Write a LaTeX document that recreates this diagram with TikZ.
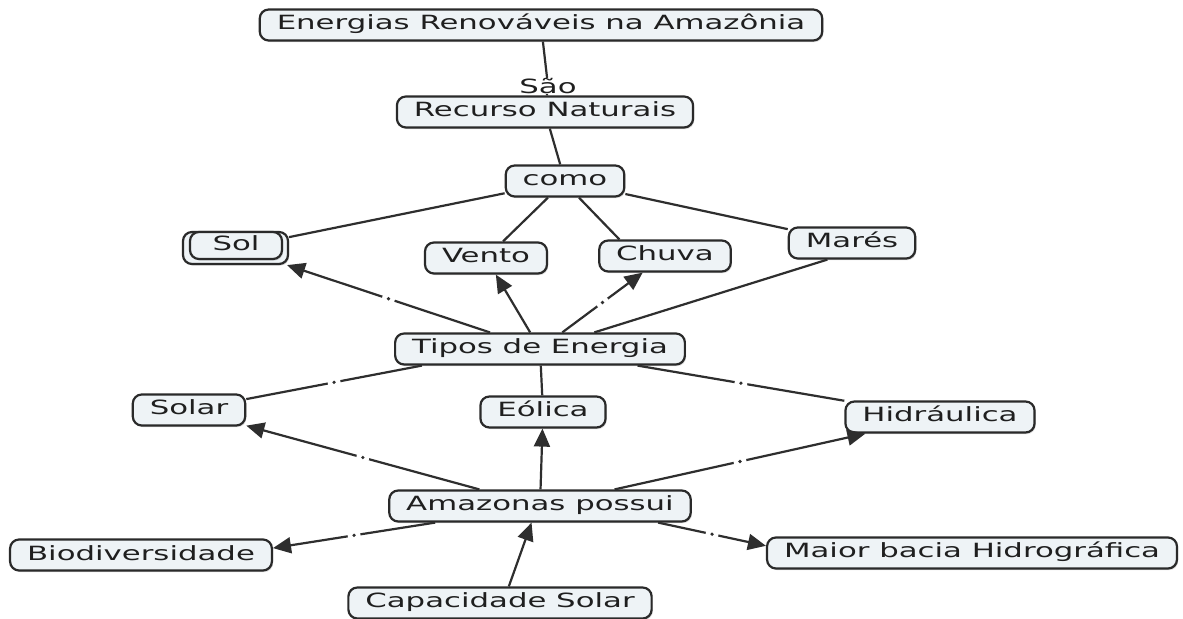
\documentclass[tikz,border=0pt]{standalone}
\usepackage{fontspec}
\setmainfont{DejaVu Sans}
\usetikzlibrary{arrows.meta,calc,shadows,backgrounds}
\definecolor{conceptfill}{HTML}{EEF3F6}
\definecolor{conceptline}{HTML}{2A2A2A}
\definecolor{linkline}{HTML}{2E2E2E}
% the map is set in a wide letter
\newcommand{\wtxt}[1]{\scalebox{1.57}[1]{#1}}

\begin{document}
\begin{tikzpicture}[x=0.5pt,y=-0.5pt,>={Triangle[length=9pt,width=8pt]},
  font=\fontsize{9.8}{11}\selectfont,
  concept/.style={draw=conceptline,line width=1.1pt,fill=conceptfill,rounded corners=4.5pt,
    inner xsep=8.5pt,inner ysep=0pt,minimum height=15.5pt,text height=7.5pt,text depth=2.5pt,
    text=black!88,drop shadow={shadow xshift=0.6pt,shadow yshift=-0.8pt,opacity=0.3}},
  link/.style={draw=linkline,line width=1.1pt},
  gapdot/.style={fill=white,circle,inner sep=0pt,minimum size=6.5pt,
    path picture={\fill[linkline] (path picture bounding box.center) circle (0.9pt);}}]
\fill[white] (0,0) rectangle (1183,619);
\useasboundingbox (0,0) rectangle (1183,619);
% Concepts
\node[concept] (ener) at (541,25) {\wtxt{Energias Renováveis na Amazônia}};
\node[inner sep=0pt,text=black!88] (sao) at (548,86) {\wtxt{São}};
\node[concept] (recurso) at (545,112) {\wtxt{Recurso Naturais}};
\node[concept] (como) at (565,181) {\wtxt{como}};
% Sol is a stacked concept
\node[concept,minimum width=52.5pt,minimum height=16pt] (sol) at (235.5,248) {};
\node[concept,minimum width=46pt,minimum height=13.5pt] (solfront) at (236,245.5) {\wtxt{Sol}};
\node[concept] (vento) at (486,258) {\wtxt{Vento}};
\node[concept] (chuva) at (665,256) {\wtxt{Chuva}};
\node[concept] (mares) at (852,243) {\wtxt{Marés}};
\node[concept] (tipos) at (540,349) {\wtxt{Tipos de Energia}};
\node[concept] (solar) at (189,410) {\wtxt{Solar}};
\node[concept] (eolica) at (543,412) {\wtxt{Eólica}};
\node[concept] (hidr) at (940,417) {\wtxt{Hidráulica}};
\node[concept] (amaz) at (540,506) {\wtxt{Amazonas possui}};
\node[concept] (bio) at (141,555) {\wtxt{Biodiversidade}};
\node[concept] (maior) at (972,553) {\wtxt{Maior bacia Hidrográfica}};
\node[concept] (capac) at (500,603) {\wtxt{Capacidade Solar}};
% Links
\draw[link] (ener) -- (sao);
\draw[link] (sao) -- (recurso);
\draw[link] (recurso) -- (como);
\foreach \a/\b in {como/sol,como/vento,como.-50/chuva.160,como/mares}
  \draw[link] (\a) -- (\b);
% arrows with a linking dot
\foreach \a/\b in {tipos/sol,tipos/chuva,amaz/solar,amaz/hidr,amaz.189/bio.3,amaz.-8/maior.178}
  \draw[link,->] (\a) -- (\b) node[gapdot,midway]{};
\foreach \a/\b in {tipos/vento,amaz/eolica,capac.62/amaz.-117}
  \draw[link,->] (\a) -- (\b);
% plain lines
\foreach \a/\b in {tipos.188/solar,tipos/hidr}
  \draw[link] (\a) -- (\b) node[gapdot,midway]{};
\draw[link] (tipos.17) -- (mares.-146);
\draw[link] (tipos) -- (eolica);
\end{tikzpicture}
\end{document}
